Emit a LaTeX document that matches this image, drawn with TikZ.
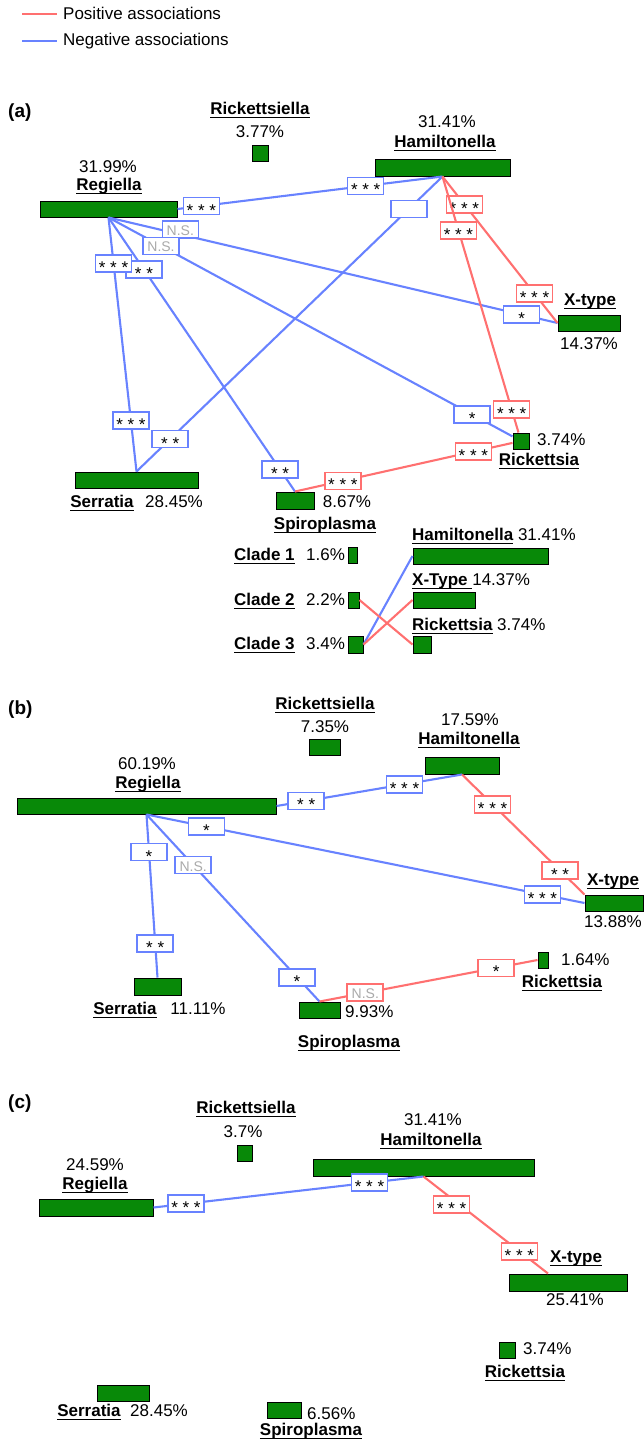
\documentclass[tikz,border=0pt]{standalone}
\usepackage{fontspec}
\setmainfont{Liberation Sans}
\definecolor{bargreen}{RGB}{8,137,8}
\definecolor{posred}{RGB}{255,112,112}
\definecolor{negblue}{RGB}{104,130,255}
\definecolor{nsgray}{RGB}{170,170,170}
\newsavebox\ulbox
\newcommand{\ubf}[1]{\sbox\ulbox{\bfseries #1}\usebox\ulbox\llap{\rule[-4.3pt]{\wd\ulbox}{1.6pt}}}
\newcommand{\sig}[1]{\raisebox{-4pt}{#1}}
\tikzset{
  sbar/.style={draw=black, fill=bargreen, line width=1pt, inner sep=0pt, minimum height=16pt},
  txt/.style={inner sep=0pt, anchor=base},
  txtl/.style={inner sep=0pt, anchor=base west},
  tag/.style={txtl, font=\fontsize{19}{19}\selectfont\bfseries},
  negedge/.style={draw=negblue, line width=2.1pt},
  posedge/.style={draw=posred, line width=2.1pt},
  lab/.style={fill=white, line width=1.6pt, minimum width=36pt, minimum height=17pt, inner sep=0pt, text height=12pt, text depth=0pt, font=\fontsize{17}{17}\selectfont},
  negl/.style={lab, draw=negblue},
  posl/.style={lab, draw=posred},
  ns/.style={text=nsgray, font=\fontsize{14}{14}\selectfont},
}
\begin{document}
\begin{tikzpicture}[x=1pt, y=-1pt, every node/.style={font=\fontsize{17}{20}\selectfont}]
    \useasboundingbox (0,0) rectangle (643,1443);
    % legend
    \draw [posedge] (22,14) -- (57,14);
    \node [txtl] (legpos) at (63,19) {Positive associations};
    \draw [negedge] (22,41) -- (57,41);
    \node [txtl] (legneg) at (63,45) {Negative associations};

    % (a)
    \node [tag] (tagA) at (8,117) {(a)};
    \node [sbar, minimum width=16pt] (rlaA) at (260,153.5) {};
    \node [txt] (rlaAnm) at (260,114) {\ubf{Rickettsiella}};
    \node [txt] (rlaApc) at (260,137) {3.77\%};
    \node [sbar, minimum width=137pt] (regA) at (108.5,209) {};
    \node [txt] (regApc) at (108,172) {31.99\%};
    \node [txt] (regAnm) at (109,190) {\ubf{Regiella}};
    \node [sbar, minimum width=135pt, minimum height=17pt] (hamA) at (442.5,167.5) {};
    \node [txt] (hamApc) at (447,127) {31.41\%};
    \node [txt] (hamAnm) at (445,147) {\ubf{Hamiltonella}};
    \node [sbar, minimum width=62pt] (xtA) at (589,323) {};
    \node [txt] (xtAnm) at (590,305) {\ubf{X-type}};
    \node [txt] (xtApc) at (589,349) {14.37\%};
    \node [sbar, minimum width=16pt] (ricA) at (521,441) {};
    \node [txtl] (ricApc) at (537,445) {3.74\%};
    \node [txt] (ricAnm) at (539,465) {\ubf{Rickettsia}};
    \node [sbar, minimum width=123pt] (serA) at (136.5,480) {};
    \node [txt] (serAnm) at (102,507) {\ubf{Serratia}};
    \node [txt] (serApc) at (174,507) {28.45\%};
    \node [sbar, minimum width=38pt, minimum height=17pt] (spA) at (295,500.5) {};
    \node [txt] (spApc) at (347,507) {8.67\%};
    \node [txt] (spAnm) at (325,529) {\ubf{Spiroplasma}};

    \draw [negedge] (regA.east) -- (hamA.south)
      node [negl, pos=.09] (a1) {\sig{* * *}}
      node [negl, pos=.71] (a2) {\sig{* * *}};
    \draw [negedge] (regA.south) -- (xtA.west)
      node [negl, ns, pos=.16, yshift=5pt] (a3) {N.S.}
      node [negl, pos=.92] (a4) {\sig{*}};
    \draw [negedge] (regA.south) -- (ricA)
      node [negl, ns, pos=.13] (a5) {N.S.}
      node [negl, pos=.90] (a6) {\sig{*}};
    \draw [negedge] (regA.south) -- (spA.north)
      node [negl, pos=.19] (a7) {\sig{* *}}
      node [negl, pos=.92] (a8) {\sig{* *}};
    \draw [negedge] (regA.south) -- (serA.north)
      node [negl, pos=.18] (a9) {\sig{* * *}}
      node [negl, pos=.80] (a10) {\sig{* * *}};
    \draw [negedge] (hamA.south) -- (serA.north)
      node [negl, pos=.11] (a11) {}
      node [negl, pos=.89] (a12) {\sig{* *}};
    \draw [posedge] (hamA.south) -- (xtA.west)
      node [posl, pos=.19] (a13) {\sig{* * *}}
      node [posl, pos=.80] (a14) {\sig{* * *}};
    \draw [posedge] (hamA.south) -- (ricA)
      node [posl, pos=.21] (a15) {\sig{* * *}}
      node [posl, pos=.91] (a16) {\sig{* * *}};
    \draw [posedge] (spA.north) -- (ricA)
      node [posl, pos=.22] (a17) {\sig{* * *}}
      node [posl, pos=.82] (a18) {\sig{* * *}};

    % Spiroplasma clades
    \node [sbar, minimum width=9pt] (cl1) at (352.5,555) {};
    \node [txtl] (cl1nm) at (234,560) {\ubf{Clade 1}};
    \node [txtl] (cl1pc) at (306,560) {1.6\%};
    \node [sbar, minimum width=11pt] (cl2) at (353.5,600) {};
    \node [txtl] (cl2nm) at (234,605) {\ubf{Clade 2}};
    \node [txtl] (cl2pc) at (306,605) {2.2\%};
    \node [sbar, minimum width=15pt, minimum height=17pt] (cl3) at (355.5,644.5) {};
    \node [txtl] (cl3nm) at (234,649) {\ubf{Clade 3}};
    \node [txtl] (cl3pc) at (306,649) {3.4\%};
    \node [sbar, minimum width=135pt] (ihm) at (480.5,556) {};
    \node [txtl] (ihmnm) at (412,540) {\ubf{Hamiltonella} 31.41\%};
    \node [sbar, minimum width=62pt] (ixt) at (444,600) {};
    \node [txtl] (ixtnm) at (412,585) {\ubf{X-Type\ }14.37\%};
    \node [sbar, minimum width=18pt, minimum height=17pt] (iri) at (422,644.5) {};
    \node [txtl] (irinm) at (412,630) {\ubf{Rickettsia} 3.74\%};
    \draw [negedge] (cl3.east) -- (ihm.west);
    \draw [posedge] (cl2.east) -- (iri.west);
    \draw [posedge] (cl3.east) -- (ixt.west);

    % (b)
    \node [tag] (tagB) at (8,714) {(b)};
    \node [sbar, minimum width=31pt] (rlaB) at (324.5,747) {};
    \node [txt] (rlaBnm) at (325,709) {\ubf{Rickettsiella}};
    \node [txt] (rlaBpc) at (325,732) {7.35\%};
    \node [sbar, minimum width=259pt] (regB) at (146.5,806) {};
    \node [txt] (regBpc) at (147,769) {60.19\%};
    \node [txt] (regBnm) at (148,788) {\ubf{Regiella}};
    \node [sbar, minimum width=74pt, minimum height=17pt] (hamB) at (462,765.5) {};
    \node [txt] (hamBpc) at (470,725) {17.59\%};
    \node [txt] (hamBnm) at (469,744) {\ubf{Hamiltonella}};
    \node [sbar, minimum width=58pt] (xtB) at (614,903) {};
    \node [txt] (xtBnm) at (613,885) {\ubf{X-type}};
    \node [txt] (xtBpc) at (613,927) {13.88\%};
    \node [sbar, minimum width=47pt, minimum height=17pt] (serB) at (157.5,986.5) {};
    \node [txt] (serBnm) at (125,1014) {\ubf{Serratia}};
    \node [txt] (serBpc) at (198,1014) {11.11\%};
    \node [sbar, minimum width=41pt] (spB) at (319.5,1010) {};
    \node [txtl] (spBpc) at (345,1017) {9.93\%};
    \node [txt] (spBnm) at (349,1047) {\ubf{Spiroplasma}};
    \node [sbar, minimum width=10pt] (ricB) at (543,960) {};
    \node [txtl] (ricBpc) at (561,965) {1.64\%};
    \node [txt] (ricBnm) at (562,987) {\ubf{Rickettsia}};

    \draw [negedge] (regB.east) -- (hamB.south)
      node [negl, pos=.16] (b1) {\sig{* *}}
      node [negl, pos=.69] (b2) {\sig{* * *}};
    \draw [negedge] (regB.south) -- (xtB.west)
      node [negl, pos=.137] (b3) {\sig{*}}
      node [negl, pos=.904] (b4) {\sig{* * *}};
    \draw [posedge] (hamB.south) -- (xtB.north west)
      node [posl, pos=.25] (b5) {\sig{* * *}}
      node [posl, pos=.80] (b6) {\sig{* *}};
    \draw [negedge] (regB.south) -- (serB.north)
      node [negl, pos=.23] (b7) {\sig{*}}
      node [negl, pos=.79] (b8) {\sig{* *}};
    \draw [negedge] (regB.south) -- (spB.north)
      node [negl, ns, pos=.27] (b9) {N.S.}
      node [negl, pos=.87] (b10) {\sig{*}};
    \draw [posedge] (spB.north) -- (ricB.west)
      node [posl, ns, pos=.21] (b11) {N.S.}
      node [posl, pos=.81] (b12) {\sig{*}};

    % (c)
    \node [tag] (tagC) at (8,1108) {(c)};
    \node [sbar, minimum width=15pt] (rlaC) at (244.5,1153) {};
    \node [txt] (rlaCnm) at (246,1113) {\ubf{Rickettsiella}};
    \node [txt] (rlaCpc) at (243,1137) {3.7\%};
    \node [sbar, minimum width=114pt, minimum height=17pt] (regC) at (96,1207.5) {};
    \node [txt] (regCpc) at (95,1170) {24.59\%};
    \node [txt] (regCnm) at (95,1189) {\ubf{Regiella}};
    \node [sbar, minimum width=221pt, minimum height=17pt] (hamC) at (423.5,1167.5) {};
    \node [txt] (hamCpc) at (433,1125) {31.41\%};
    \node [txt] (hamCnm) at (431,1145) {\ubf{Hamiltonella}};
    \node [sbar, minimum width=118pt, minimum height=17pt] (xtC) at (568,1282.5) {};
    \node [txt] (xtCnm) at (576,1262) {\ubf{X-type}};
    \node [txt] (xtCpc) at (575,1305) {25.41\%};
    \node [sbar, minimum width=16pt] (ricC) at (507,1350) {};
    \node [txtl] (ricCpc) at (523,1354) {3.74\%};
    \node [txt] (ricCnm) at (525,1377) {\ubf{Rickettsia}};
    \node [sbar, minimum width=52pt] (serC) at (123,1393) {};
    \node [txt] (serCnm) at (89,1416) {\ubf{Serratia}};
    \node [txtl] (serCpc) at (130,1416) {28.45\%};
    \node [sbar, minimum width=34pt] (spC) at (284,1410) {};
    \node [txtl] (spCpc) at (307,1419) {6.56\%};
    \node [txt] (spCnm) at (311,1435) {\ubf{Spiroplasma}};

    \draw [negedge] (regC.east) -- (hamC.south)
      node [negl, pos=.12] (c1) {\sig{* * *}}
      node [negl, pos=.80] (c2) {\sig{* * *}};
    \draw [posedge] (hamC.south) -- ([xshift=-20pt]xtC.north)
      node [posl, pos=.29, xshift=-8pt] (c3) {\sig{* * *}}
      node [posl, pos=.77] (c4) {\sig{* * *}};
\end{tikzpicture}
\end{document}
